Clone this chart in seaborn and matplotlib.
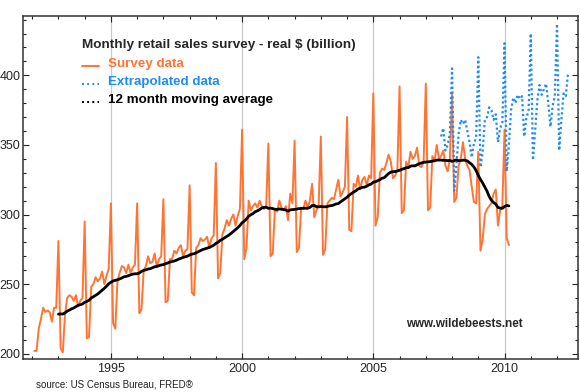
import numpy as np
import pandas as pd
import matplotlib
matplotlib.use('Agg')
import matplotlib.pyplot as plt
import seaborn as sns
from matplotlib.lines import Line2D
from matplotlib.ticker import MultipleLocator

# monthly retail sales, real $ billion, Jan..Dec
s1992 = [202, 202, 218, 225, 233, 230, 231, 230, 223, 233, 233, 281]
s1993 = [204, 201, 228, 240, 242, 241, 238, 242, 234, 238, 240, 295]
s1994 = [211, 212, 248, 250, 255, 252, 254, 259, 250, 256, 261, 308]
s1995 = [222, 218, 252, 258, 263, 262, 258, 264, 258, 262, 264, 308]
s1996 = [229, 232, 260, 263, 270, 265, 266, 272, 262, 268, 270, 311]
s1997 = [237, 238, 268, 268, 274, 272, 276, 278, 270, 274, 275, 321]
s1998 = [244, 242, 276, 278, 283, 281, 282, 284, 276, 283, 285, 337]
s1999 = [254, 258, 286, 290, 296, 292, 297, 300, 292, 299, 304, 361]
s2000 = [268, 276, 310, 303, 306, 308, 305, 310, 306, 304, 306, 351]
s2001 = [270, 272, 304, 302, 310, 305, 303, 306, 296, 315, 308, 353]
s2002 = [273, 276, 305, 304, 310, 305, 310, 322, 298, 303, 307, 356]
s2003 = [271, 275, 308, 310, 312, 311, 318, 325, 313, 316, 320, 370]
s2004 = [289, 288, 322, 320, 328, 318, 325, 327, 321, 328, 326, 387]
s2005 = [292, 298, 330, 333, 332, 337, 343, 338, 326, 328, 332, 392]
s2006 = [301, 303, 338, 334, 345, 340, 342, 348, 335, 334, 338, 394]
s2007 = [303, 305, 342, 338, 350, 340, 342, 346, 335, 331, 340, 386]
s2008 = [309, 312, 335, 340, 352, 340, 335, 332, 320, 309, 308, 345]
s2009 = [274, 282, 300, 304, 306, 308, 315, 318, 292, 303, 306, 361]
s2010 = [283, 278]

# extrapolated data, Jul 2007 .. May 2012
ext2007 = [356, 362, 346, 350, 358, 405]
ext2008 = [317, 335, 358, 368, 365, 368, 360, 352, 341, 351, 355, 413]
ext2009 = [334, 345, 368, 370, 377, 375, 368, 372, 352, 362, 366, 423]
ext2010 = [331, 350, 375, 384, 380, 386, 383, 385, 356, 370, 374, 430]
ext2011 = [339, 360, 382, 393, 386, 390, 394, 380, 363, 378, 385, 437]
ext2012 = [346, 368, 387, 385, 401]

year_ticks = [1995, 2000, 2005, 2010]
value_ticks = [200, 250, 300, 350, 400]

ORANGE = '#ff7433'
BLUE = '#1f8cf5'

survey = (s1992 + s1993 + s1994 + s1995 + s1996 + s1997 + s1998 + s1999 + s2000
          + s2001 + s2002 + s2003 + s2004 + s2005 + s2006 + s2007 + s2008 + s2009 + s2010)
extrap = ext2007 + ext2008 + ext2009 + ext2010 + ext2011 + ext2012

df = pd.DataFrame({'year': 1992 + (np.arange(len(survey)) + 1) / 12, 'sales': survey})
df['ma'] = df['sales'].rolling(12).mean()
ext = pd.DataFrame({'year': 2007 + (np.arange(len(extrap)) + 7) / 12, 'sales': extrap})

sns.set_style('ticks')
plt.rcParams['font.family'] = ['Liberation Sans', 'DejaVu Sans']

fig = plt.figure(figsize=(5.8, 3.92), dpi=100)
ax = fig.add_axes([23 / 580, 1 - 359 / 392, 555 / 580, 343 / 392])

sns.lineplot(data=df, x='year', y='sales', color=ORANGE, lw=1.4, ax=ax)
sns.lineplot(data=ext, x='year', y='sales', color=BLUE, lw=1.6, ax=ax, linestyle=(0, (1, 1.2)))
sns.lineplot(data=df.dropna(), x='year', y='ma', color='black', lw=2.0, ax=ax)

ax.set_xlim(1991.65, 2012.8)
ax.set_ylim(196.2, 442.6)
ax.set_xticks(year_ticks)
ax.set_yticks(value_ticks)
ax.xaxis.set_minor_locator(MultipleLocator(1))
ax.yaxis.set_minor_locator(MultipleLocator(10))
ax.tick_params(which='both', direction='in', top=True, right=True, labelsize=9,
               width=0.8, color='#222')
ax.tick_params(which='major', length=4)
ax.tick_params(which='minor', length=2.5)
ax.tick_params(axis='y', pad=2)
ax.tick_params(axis='x', pad=3)
ax.set_xlabel('')
ax.set_ylabel('')
ax.grid(axis='x', which='major', color='#c8c8c8', lw=0.9)
ax.set_axisbelow(True)
for sp in ax.spines.values():
    sp.set_color('#333')
    sp.set_linewidth(1.1)

# legend block drawn by hand
def px(x, y):
    return x / 580, 1 - y / 392

fig.text(*px(82, 45), 'Monthly retail sales survey - real $ (billion)', fontsize=9.7,
         fontweight='bold', va='center')
entries = [('Survey data', ORANGE, '-', 64), ('Extrapolated data', BLUE, ':', 82),
           ('12 month moving average', 'black', ':', 99.5)]
for label, col, ls, y in entries:
    fig.add_artist(Line2D([82 / 580, 99 / 580], [1 - (y + 2) / 392] * 2, color=col,
                          lw=1.4, ls=ls, transform=fig.transFigure))
    fig.text(*px(108, y), label, fontsize=9.6, fontweight='bold', va='center', color=col)

fig.text(*px(406, 324), 'www.wildebeests.net', fontsize=8.4, fontweight='bold', va='center')
fig.text(*px(36, 384.5), 'source: US Census Bureau, FRED\u00ae', fontsize=7.0,
         color='#222', va='center')

fig.savefig('out.png', dpi=100)
